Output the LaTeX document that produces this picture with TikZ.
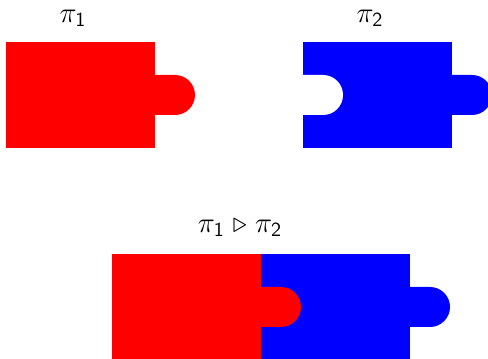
\documentclass[tikz,border=0pt]{standalone}
\usepackage{amsmath,amssymb}
\tikzset{
    piece_red/.style={fill=red, draw=none},
    piece_blue/.style={fill=blue, draw=none},
    piece_hole/.style={fill=white, draw=none},
    piece_label/.style={font=\Large, inner sep=0pt},
    knob/.pic={\path[pic actions] (0,-20) -- (20,-20) arc[start angle=-90, end angle=90, radius=20] -- (0,20) -- cycle;}
}

\begin{document}
\begin{tikzpicture}[x=0.5pt, y=0.5pt]
    \useasboundingbox (0,0) rectangle (488,359);
    % first piece
    \node (lab1) [piece_label] at (73,341) {$\pi_{\mathsf{1}}$};
    \fill[piece_red] (6,211) rectangle (155,317);
    \pic[piece_red] at (155,264) {knob};
    % second piece
    \node (lab2) [piece_label] at (370,341) {$\pi_{\mathsf{2}}$};
    \fill[piece_blue] (303,211) rectangle (452,317);
    \pic[piece_hole] at (303,264) {knob};
    \pic[piece_blue] at (452,264) {knob};
    % combined
    \node (lab12) [piece_label] at (240,131) {$\pi_{\mathsf{1}} \mathrel{\triangleright} \pi_{\mathsf{2}}$};
    \fill[piece_red] (112,0) rectangle (261,105);
    \fill[piece_blue] (261,0) rectangle (410,105);
    \pic[piece_red] at (261,52) {knob};
    \pic[piece_blue] at (410,52) {knob};
\end{tikzpicture}
\end{document}
